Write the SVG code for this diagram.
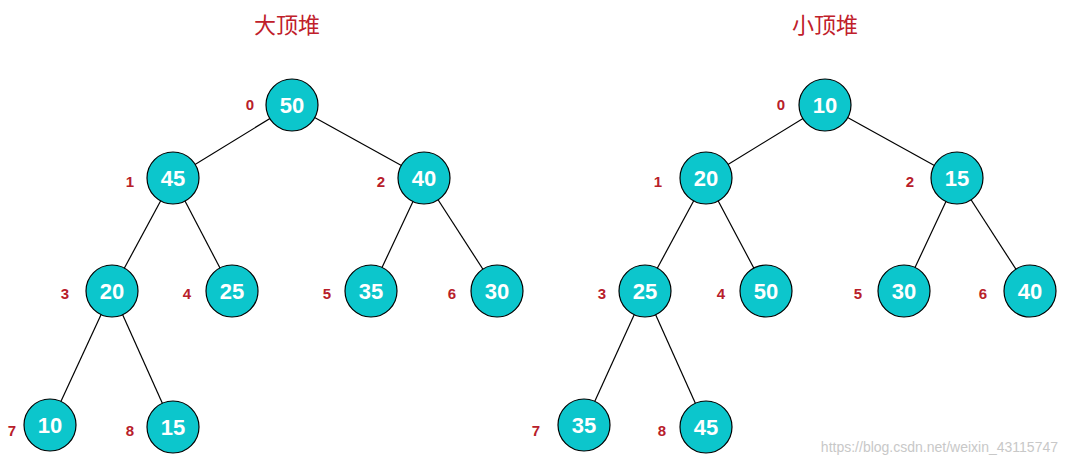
<svg xmlns="http://www.w3.org/2000/svg" width="1067" height="465" viewBox="0 0 1067 465">
<style>
.n circle{fill:#0cc6cc;stroke:#000;stroke-width:1.2}
.n text{font-family:"Liberation Sans",Arial,sans-serif;font-weight:bold;font-size:22px;fill:#fff;text-anchor:middle;dominant-baseline:central}
.i{font-family:"Liberation Sans",Arial,sans-serif;font-weight:bold;font-size:15px;fill:#b8202a;text-anchor:middle;dominant-baseline:central}
.t{font-family:"Noto Sans CJK SC",sans-serif;font-size:22px;fill:#c0202a;text-anchor:middle}
#edges line{stroke:#000;stroke-width:1.2}
</style>
<rect width="1067" height="465" fill="#fff"/>
<text class="t" x="287" y="33">大顶堆</text>
<text class="t" x="825" y="33">小顶堆</text>
<g id="edges">
<line x1="292" y1="105" x2="173" y2="178"/><line x1="292" y1="105" x2="424" y2="178"/>
<line x1="173" y1="178" x2="112" y2="291"/><line x1="173" y1="178" x2="232" y2="291"/>
<line x1="424" y1="178" x2="371" y2="291"/><line x1="424" y1="178" x2="497" y2="291"/>
<line x1="112" y1="291" x2="50" y2="425"/><line x1="112" y1="291" x2="173" y2="427"/>
<line x1="825" y1="105" x2="706" y2="178"/><line x1="825" y1="105" x2="957" y2="178"/>
<line x1="706" y1="178" x2="645" y2="291"/><line x1="706" y1="178" x2="766" y2="291"/>
<line x1="957" y1="178" x2="904" y2="291"/><line x1="957" y1="178" x2="1030" y2="291"/>
<line x1="645" y1="291" x2="584" y2="425"/><line x1="645" y1="291" x2="706" y2="427"/>
</g>
<g id="L0" class="n"><circle cx="292" cy="105" r="26"/><text x="292" y="105">50</text></g>
<g id="L1" class="n"><circle cx="173" cy="178" r="26"/><text x="173" y="178">45</text></g>
<g id="L2" class="n"><circle cx="424" cy="178" r="26"/><text x="424" y="178">40</text></g>
<g id="L3" class="n"><circle cx="112" cy="291" r="26"/><text x="112" y="291">20</text></g>
<g id="L4" class="n"><circle cx="232" cy="291" r="26"/><text x="232" y="291">25</text></g>
<g id="L5" class="n"><circle cx="371" cy="291" r="26"/><text x="371" y="291">35</text></g>
<g id="L6" class="n"><circle cx="497" cy="291" r="26"/><text x="497" y="291">30</text></g>
<g id="L7" class="n"><circle cx="50" cy="425" r="26"/><text x="50" y="425">10</text></g>
<g id="L8" class="n"><circle cx="173" cy="427" r="26"/><text x="173" y="427">15</text></g>
<g id="R0" class="n"><circle cx="825" cy="105" r="26"/><text x="825" y="105">10</text></g>
<g id="R1" class="n"><circle cx="706" cy="178" r="26"/><text x="706" y="178">20</text></g>
<g id="R2" class="n"><circle cx="957" cy="178" r="26"/><text x="957" y="178">15</text></g>
<g id="R3" class="n"><circle cx="645" cy="291" r="26"/><text x="645" y="291">25</text></g>
<g id="R4" class="n"><circle cx="766" cy="291" r="26"/><text x="766" y="291">50</text></g>
<g id="R5" class="n"><circle cx="904" cy="291" r="26"/><text x="904" y="291">30</text></g>
<g id="R6" class="n"><circle cx="1030" cy="291" r="26"/><text x="1030" y="291">40</text></g>
<g id="R7" class="n"><circle cx="584" cy="425" r="26"/><text x="584" y="425">35</text></g>
<g id="R8" class="n"><circle cx="706" cy="427" r="26"/><text x="706" y="427">45</text></g>
<g id="idx">
<text class="i" x="250" y="104">0</text><text class="i" x="130" y="181">1</text><text class="i" x="381" y="181">2</text>
<text class="i" x="65" y="293">3</text><text class="i" x="187" y="293">4</text><text class="i" x="327" y="293">5</text>
<text class="i" x="452" y="293">6</text><text class="i" x="12" y="430">7</text><text class="i" x="130" y="430">8</text>
<text class="i" x="781" y="104">0</text><text class="i" x="658" y="181">1</text><text class="i" x="910" y="181">2</text>
<text class="i" x="602" y="293">3</text><text class="i" x="721" y="293">4</text><text class="i" x="858" y="293">5</text>
<text class="i" x="983" y="293">6</text><text class="i" x="536" y="430">7</text><text class="i" x="662" y="430">8</text>
</g>
<text x="1058" y="452" text-anchor="end" font-family="Liberation Sans, Arial, sans-serif" font-size="14" fill="#c8c8c8">https://blog.csdn.net/weixin_43115747</text>
</svg>
